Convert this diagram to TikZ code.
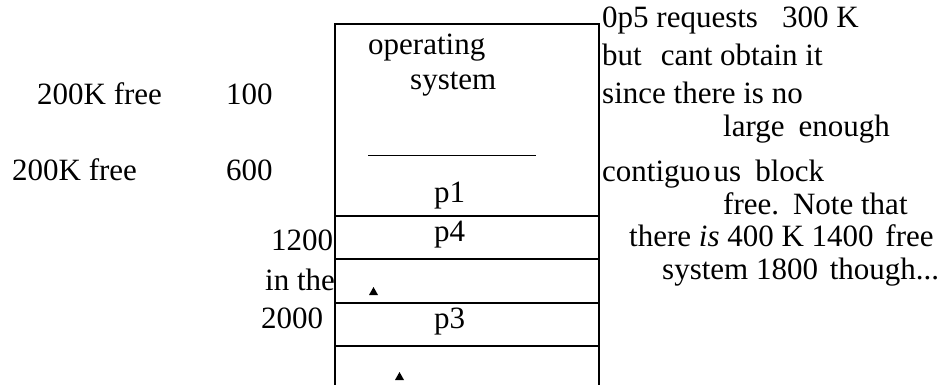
\documentclass[tikz,border=0pt]{standalone}
\usepackage{fontspec}
\setmainfont{Liberation Serif}
\begin{document}
\begin{tikzpicture}[x=1pt,y=-1pt,
  txt/.style={inner sep=0pt, anchor=base west, font=\fontsize{31}{36}\selectfont},
  rule/.style={line width=1.5pt}]
\useasboundingbox (0,0) rectangle (945,385);
% memory box
\draw[rule] (335,385) -- (335,24) -- (599,24) -- (599,385);
\foreach \y in {216,259,303,346} \draw[rule] (335,\y) -- (599,\y);
\draw[line width=1pt] (368,156) -- (536,156);
\fill (369,295) -- (378,295) -- (373.5,287) -- cycle;
\fill (395,380) -- (404,380) -- (399.5,372) -- cycle;
% left labels
\node[txt] (freeA) at (37,105) {200K free};
\node[txt] (n100) at (226,105) {100};
\node[txt] (freeB) at (12,180) {200K free};
\node[txt] (n600) at (226,180) {600};
\node[txt] (n1200) at (271,250) {1200};
\node[txt] (inthe) at (265,290) {in the};
\node[txt] (n2000) at (261,328) {2000};
% box labels
\node[txt] (osA) at (368,55) {operating};
\node[txt] (osB) at (410,90) {system};
\node[txt] (p1) at (434,202) {p1};
\node[txt] (p4) at (434,241) {p4};
\node[txt] (p3) at (434,328) {p3};
% right text
\node[txt] (r1) at (602,28) {0p5 requests\hspace{24pt}300 K};
\node[txt] (r2) at (602,66) {but\hspace{19pt}cant obtain it};
\node[txt] (r3) at (602,104) {since there is no};
\node[txt] (r4) at (723,136) {large\hspace{14pt}enough};
\node[txt] (r5) at (602,181) {contiguo\kern3pt us\hspace{14pt}block};
\node[txt, text depth=0pt] (r6) at (723,214) {free.\hspace{14pt}Note that};
\node[txt, text height=21pt] (r7) at (629,246) {there \textit{is} 400 K 1400\hspace{4pt} free};
\node[txt] (r8) at (662,279) {system 1800\hspace{4pt} though...};
\end{tikzpicture}
\end{document}
